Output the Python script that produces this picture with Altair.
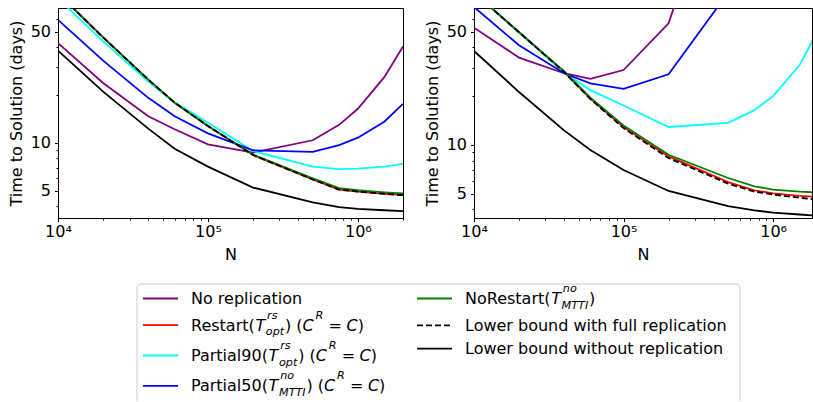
import altair as alt
import pandas as pd

# ---------------- data ----------------
N = [1e4, 2e4, 4e4, 6e4, 1e5, 2e5, 5e5, 7.5e5, 1e6, 1.5e6, 2e6]

SERIES = [
    "No replication",
    "Restart",
    "Partial90",
    "Partial50",
    "NoRestart",
    "Lower bound with full replication",
    "Lower bound without replication",
]
COLORS = ["#800080", "#ff0000", "#00ffff", "#0000ff", "#008000", "#000000", "#000000"]
DASHED = [False, False, False, False, False, True, False]

# left panel
L_no_rep = [42.4, 23.8, 14.7, 12.2, 9.8, 8.7, 10.4, 13.0, 16.4, 25.9, 40.4]
L_restart = [87, 46, 25, 17.9, 12.8, 8.4, 5.9, 5.1, 4.95, 4.8, 4.72]
L_partial90 = [81, 43.5, 24.3, 18.0, 13.4, 8.9, 7.1, 6.85, 6.9, 7.1, 7.4]
L_partial50 = [59.3, 32.9, 19.2, 14.7, 11.5, 9.0, 8.8, 9.7, 10.8, 13.6, 17.6]
L_norestart = [87, 46, 25, 17.9, 12.8, 8.45, 6.0, 5.2, 5.05, 4.9, 4.82]
L_lb_full = [87, 46, 25, 17.9, 12.8, 8.4, 5.9, 5.1, 4.95, 4.8, 4.7]
L_lb_none = [38, 21, 12.3, 9.2, 7.1, 5.25, 4.24, 3.95, 3.86, 3.78, 3.73]

# right panel
R_no_rep = [52.9, 34.6, 27.7, 25.6, 29.0, 56.3, 700, None, None, None, None]
R_restart = [87, 49.6, 28.2, 19.3, 12.9, 8.5, 5.9, 5.25, 5.03, 4.85, 4.77]
R_partial90 = [87, 49.6, 28.0, 21.8, 17.5, 12.9, 13.7, 16.4, 20.0, 31.0, 51.0]
R_partial50 = [71, 41.2, 27.7, 24.0, 22.2, 27.3, 87, None, None, None, None]
R_norestart = [87, 49.6, 28.5, 19.6, 13.2, 8.7, 6.25, 5.55, 5.3, 5.15, 5.08]
R_lb_full = [87, 49.6, 28.2, 19.2, 12.7, 8.3, 5.77, 5.15, 4.94, 4.72, 4.6]
R_lb_none = [38, 21.2, 12.3, 9.3, 7.0, 5.2, 4.19, 3.95, 3.82, 3.72, 3.65]

LEFT = [L_no_rep, L_restart, L_partial90, L_partial50, L_norestart, L_lb_full, L_lb_none]
RIGHT = [R_no_rep, R_restart, R_partial90, R_partial50, R_norestart, R_lb_full, R_lb_none]

X_TICKS = [1e4, 2e4, 3e4, 4e4, 5e4, 6e4, 7e4, 8e4, 9e4,
           1e5, 2e5, 3e5, 4e5, 5e5, 6e5, 7e5, 8e5, 9e5, 1e6, 2e6]
X_MAJOR = [1e4, 1e5, 1e6]
X_MAJOR_LABELS = ["10⁴", "10⁵", "10⁶"]
Y_TICKS = [4, 5, 6, 7, 8, 9, 10, 20, 30, 40, 50, 60]
Y_MAJOR = [5, 10, 50]

# legend label pieces: ("t", text) plain, ("m", text) math italic,
# ("ss", sup, sub) scripts, ("eq",) math "="
LABELS = [
    [("t", "No replication")],
    [("t", "Restart("), ("m", "T"), ("ss", "rs", "opt"), ("t", ") ("), ("m", "C"),
     ("ss", "R", ""), ("eq",), ("m", "C"), ("t", ")")],
    [("t", "Partial90("), ("m", "T"), ("ss", "rs", "opt"), ("t", ") ("), ("m", "C"),
     ("ss", "R", ""), ("eq",), ("m", "C"), ("t", ")")],
    [("t", "Partial50("), ("m", "T"), ("ss", "no", "MTTI"), ("t", ") ("), ("m", "C"),
     ("ss", "R", ""), ("eq",), ("m", "C"), ("t", ")")],
    [("t", "NoRestart("), ("m", "T"), ("ss", "no", "MTTI"), ("t", ")")],
    [("t", "Lower bound with full replication")],
    [("t", "Lower bound without replication")],
]
LEGEND_COLUMNS = [[0, 1, 2, 3], [4, 5, 6]]

FONT = "DejaVu Sans"
FS = 16
FSS = 11.2

# ---------------- panels ----------------
def x_label_expr():
    parts = [f"datum.value == {v} ? '{lab}'" for v, lab in zip(X_MAJOR, X_MAJOR_LABELS)]
    return " : ".join(parts) + " : ''"


def panel(values, xmax, ymin, ymax, width, height=210):
    xt = [v for v in X_TICKS if v <= xmax * 1.0001]
    xmaj = ", ".join(str(v) for v in X_MAJOR)
    ymaj = ", ".join(str(v) for v in Y_MAJOR)
    x_axis = alt.Axis(
        values=xt, labelExpr=x_label_expr(), title="N", grid=False,
        labelFlush=False, labelOverlap=False, labelPadding=2, titlePadding=7,
        tickSize={"condition": {"test": f"indexof([{xmaj}], datum.value) >= 0", "value": 3.5}, "value": 2},
    )
    y_axis = alt.Axis(
        values=Y_TICKS,
        labelExpr=f"indexof([{ymaj}], datum.value) >= 0 ? datum.value + '' : ''",
        title="Time to Solution (days)", grid=False, labelOverlap=False,
        labelPadding=4, titlePadding=6,
        tickSize={"condition": {"test": f"indexof([{ymaj}], datum.value) >= 0", "value": 3.5}, "value": 2},
    )
    xs = alt.Scale(type="log", domain=[1e4, xmax], nice=False)
    ys = alt.Scale(type="log", domain=[ymin, ymax], nice=False)
    layers = []
    for name, color, dashed, vals in zip(SERIES, COLORS, DASHED, values):
        df = pd.DataFrame({"N": N, "T": vals, "series": name})
        mk = dict(clip=True, strokeWidth=1.8, color=color)
        if dashed:
            mk["strokeDash"] = [6, 3]
        layers.append(
            alt.Chart(df).mark_line(**mk).encode(
                x=alt.X("N:Q", scale=xs, axis=x_axis),
                y=alt.Y("T:Q", scale=ys, axis=y_axis),
            )
        )
    return alt.layer(*layers).properties(
        width=width, height=height,
        view=alt.ViewBackground(stroke="black", strokeWidth=1),
    )


left = panel(LEFT, 2e6, 3.38, 70.4, 345)
right = panel(RIGHT, 1.82e6, 3.54, 70.0, 338)

PAD_LEFT = 7
top = alt.hconcat(left, right, spacing=19)

# ---------------- legend (laid out in pixel space) ----------------
LEG_ORIGIN_X = 58      # canvas x of the legend view origin (aligned with left plot)
LEG_TOP = 272          # canvas y of the legend view origin
LEG_W = 700
LEG_H = 402 - LEG_TOP

ADV = {" ": 651, "(": 799, ")": 799, "=": 1716, "0": 1303, "5": 1303, "9": 1303,
       "C": 1430, "I": 604, "L": 1141, "M": 1767, "N": 1532, "P": 1235, "R": 1423,
       "T": 1251, "a": 1255, "b": 1300, "c": 1126, "d": 1300, "e": 1260, "f": 721,
       "h": 1298, "i": 569, "l": 569, "n": 1298, "o": 1253, "p": 1300, "r": 842,
       "s": 1067, "t": 803, "u": 1298, "w": 1675, "y": 1212}


def tw(s, size):
    return sum(ADV.get(c, 1250) for c in s) / 2048.0 * size


def layout_label(tokens, x0, base):
    frags = []
    x = x0
    for tok in tokens:
        k = tok[0]
        if k == "t":
            frags.append((x, base, tok[1], "n"))
            x += tw(tok[1], FS)
        elif k == "m":
            frags.append((x, base, tok[1], "i"))
            x += tw(tok[1], FS)
        elif k == "eq":
            x += 0.28 * FS
            frags.append((x, base, "=", "n"))
            x += tw("=", FS) + 0.28 * FS
        elif k == "ss":
            sup, sub = tok[1], tok[2]
            x += 0.6
            wsup = tw(sup, FSS) + 1.2 if sup else 0
            wsub = tw(sub, FSS) if sub else 0
            if sup:
                frags.append((x + 1.2, base - 12.0, sup, "s"))
            if sub:
                frags.append((x, base + 4.5, sub, "s"))
            x += max(wsup, wsub) + 0.8
    return frags


def is_math(tokens):
    return any(t[0] == "ss" for t in tokens)


ROW_EXT = {False: (9.5, 9.5), True: (12.9, 13.1)}
ROW_GAP = 4.3
COL_HANDLE_X = [143, 417]
HANDLE_LEN = 35
TEXT_GAP = 13
FIRST_ROW_Y = 299.5
BOX = (137, 740, 285)

frag_rows = []
handle_rows = []
for ci, col in enumerate(LEGEND_COLUMNS):
    y = FIRST_ROW_Y
    prev = None
    for idx in col:
        m = is_math(LABELS[idx])
        if prev is not None:
            y += ROW_EXT[prev][1] + ROW_EXT[m][0] + ROW_GAP
        hx = COL_HANDLE_X[ci]
        handle_rows.append({
            "x": hx - LEG_ORIGIN_X, "x2": hx + HANDLE_LEN - LEG_ORIGIN_X, "y": y - LEG_TOP,
            "color": COLORS[idx], "dashed": DASHED[idx],
        })
        for fx, fy, txt, kind in layout_label(LABELS[idx], hx + HANDLE_LEN + TEXT_GAP, y + 5.6):
            frag_rows.append({"x": fx - LEG_ORIGIN_X, "y": fy - LEG_TOP, "text": txt, "kind": kind})
        prev = m

frags = pd.DataFrame(frag_rows)
handles = pd.DataFrame(handle_rows)
box = pd.DataFrame([{"x": BOX[0] - LEG_ORIGIN_X, "x2": BOX[1] - LEG_ORIGIN_X,
                     "y": BOX[2] - LEG_TOP, "y2": LEG_H + 20}])

lx = alt.Scale(domain=[0, LEG_W], nice=False, zero=False)
ly = alt.Scale(domain=[0, LEG_H], nice=False, zero=False, reverse=True)

box_layer = alt.Chart(box).mark_rect(
    clip=True, fill="white", stroke="#cccccc", strokeWidth=1, cornerRadius=4
).encode(
    x=alt.X("x:Q", scale=lx, axis=None), x2="x2:Q",
    y=alt.Y("y:Q", scale=ly, axis=None), y2="y2:Q",
)

solid_h = alt.Chart(handles[~handles["dashed"]]).mark_rule(strokeWidth=1.8).encode(
    x=alt.X("x:Q", scale=lx, axis=None), x2="x2:Q",
    y=alt.Y("y:Q", scale=ly, axis=None),
    color=alt.Color("color:N", scale=None, legend=None),
)
dash_h = alt.Chart(handles[handles["dashed"]]).mark_rule(strokeWidth=1.8, strokeDash=[6, 3]).encode(
    x=alt.X("x:Q", scale=lx, axis=None), x2="x2:Q",
    y=alt.Y("y:Q", scale=ly, axis=None),
    color=alt.Color("color:N", scale=None, legend=None),
)


def text_layer(kind, size, style):
    return alt.Chart(frags[frags["kind"] == kind]).mark_text(
        align="left", baseline="alphabetic", font=FONT, fontSize=size,
        fontStyle=style, color="black",
    ).encode(
        x=alt.X("x:Q", scale=lx, axis=None),
        y=alt.Y("y:Q", scale=ly, axis=None),
        text="text:N",
    )


legend = alt.layer(
    box_layer, solid_h, dash_h,
    text_layer("n", FS, "normal"),
    text_layer("i", FS, "italic"),
    text_layer("s", FSS, "italic"),
).properties(width=LEG_W, height=LEG_H)

chart = alt.vconcat(top, legend, spacing=7).properties(
    padding={"left": PAD_LEFT, "top": 7, "right": 0, "bottom": 0},
    background="white",
).configure_view(stroke="transparent").configure_axis(
    labelFont=FONT, titleFont=FONT, labelFontSize=FS, titleFontSize=FS,
    titleFontWeight="normal", labelColor="black", titleColor="black",
    domainColor="black", tickColor="black", domainWidth=1, tickWidth=1,
)

chart.save("out.html", embed_options={"renderer": "svg", "actions": False})
